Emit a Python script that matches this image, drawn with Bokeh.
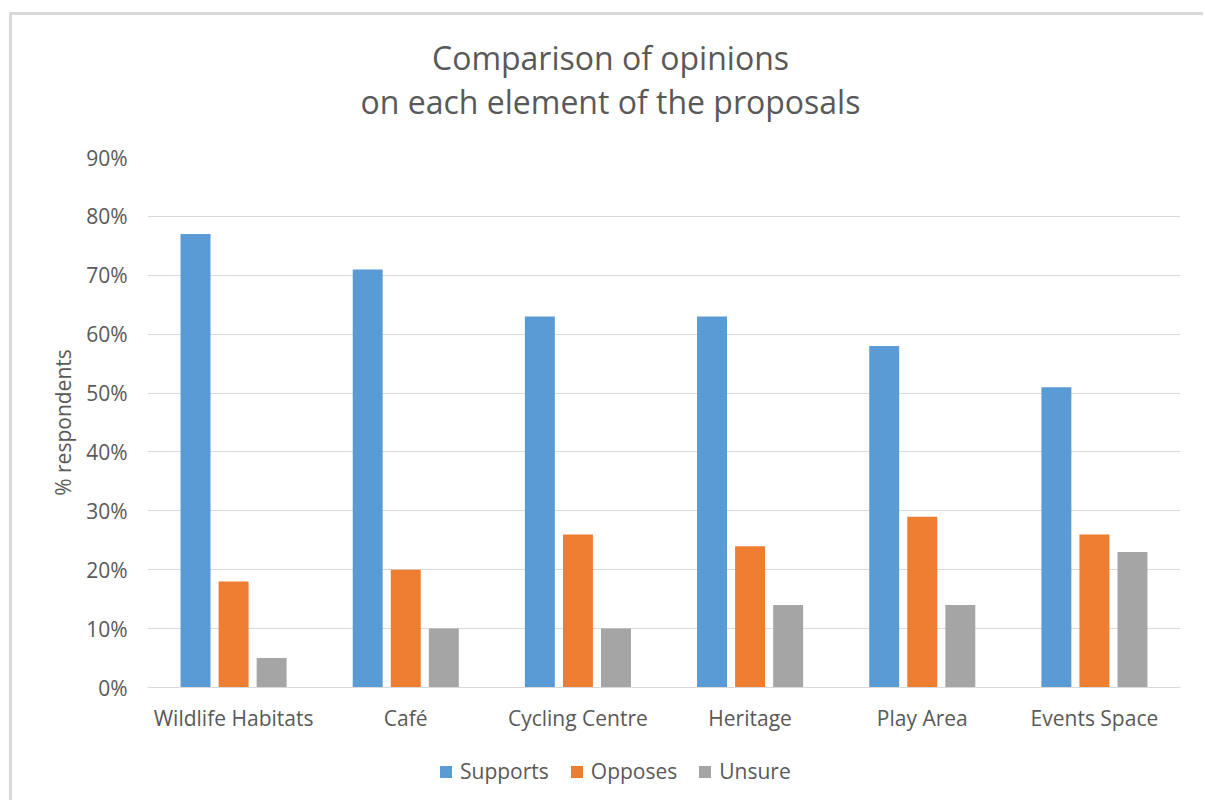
from bokeh.plotting import figure
from bokeh.layouts import column
from bokeh.models import (FactorRange, Range1d, FixedTicker, PrintfTickFormatter,
                          Legend, LegendItem, ColumnDataSource)
from bokeh.core.properties import value
from bokeh.transform import dodge
from bokeh.embed import file_html
from bokeh.resources import INLINE

categories = ["Wildlife Habitats", "Café", "Cycling Centre", "Heritage", "Play Area", "Events Space"]
supports = [77, 71, 63, 63, 58, 51]
opposes = [18, 20, 26, 24, 29, 26]
unsure = [5, 10, 10, 14, 14, 23]
series_names = ["Supports", "Opposes", "Unsure"]
y_ticks = [0, 10, 20, 30, 40, 50, 60, 70, 80, 90]
title_lines = ["Comparison of opinions", "on each element of the proposals"]

FONT = "Open Sans"
TXT = "#595959"
GRID = "#D9D9D9"
colors = ["#5B9BD5", "#ED7D31", "#A5A5A5"]
W = 1203
FRAME_L, FRAME_R = 147, 1180  # frames of the stacked figures are aligned by the column


def blank_fig(h):
    f = figure(width=W, height=h, x_range=Range1d(FRAME_L, FRAME_R), y_range=Range1d(h, 0),
               x_axis_type=None, y_axis_type=None, title=None,
               output_backend="svg", toolbar_location=None,
               min_border_left=0, min_border_right=0, min_border_top=0, min_border_bottom=0)
    f.outline_line_color = None
    f.background_fill_color = None
    f.border_fill_color = None
    f.grid.visible = False
    return f


# ---- title strip ----
tf = blank_fig(142)
tsrc = ColumnDataSource(dict(txt=title_lines, x=[610, 610], y=[57, 101]))
tf.text(x="x", y="y", text="txt", source=tsrc, text_align="center", text_baseline="middle",
        text_font=value(FONT), text_font_size="32px", text_color=TXT)

# ---- main chart ----
src = ColumnDataSource(dict(cat=categories, Supports=supports, Opposes=opposes, Unsure=unsure))
p = figure(x_range=FactorRange(factors=categories, range_padding=0),
           y_range=Range1d(0, 90), width=W, height=598, title=None,
           output_backend="svg", toolbar_location=None,
           min_border_left=FRAME_L, min_border_right=W - FRAME_R, min_border_top=15,
           min_border_bottom=53)
p.outline_line_color = None
p.background_fill_color = "white"
p.border_fill_color = None

offsets = [-0.221, 0.0, 0.221]
for name, off, col in zip(series_names, offsets, colors):
    p.vbar(x=dodge("cat", off, range=p.x_range), top=name, width=0.174, bottom=0,
           source=src, fill_color=col, line_color=None)

p.xgrid.visible = False
p.ygrid.grid_line_color = GRID
p.ygrid.grid_line_width = 1
p.yaxis.ticker = FixedTicker(ticks=y_ticks)
p.yaxis.formatter = PrintfTickFormatter(format="%d%%")
p.yaxis.axis_line_color = None
p.yaxis.major_tick_line_color = None
p.yaxis.minor_tick_line_color = None
p.yaxis.major_label_standoff = 14
p.yaxis.axis_label = "% respondents"
p.yaxis.axis_label_standoff = 6
p.yaxis.axis_label_text_font = FONT
p.yaxis.axis_label_text_font_size = "21px"
p.yaxis.axis_label_text_font_style = "normal"
p.yaxis.axis_label_text_color = TXT

p.xaxis.axis_line_color = GRID
p.xaxis.major_tick_line_color = None
p.xaxis.minor_tick_line_color = None
p.xaxis.major_label_standoff = 10
for ax in (p.xaxis, p.yaxis):
    ax.major_label_text_font = FONT
    ax.major_label_text_font_size = "21px"
    ax.major_label_text_color = TXT

# ---- legend strip ----
lf = blank_fig(60)
items = []
for name, col in zip(series_names, colors):
    # zero-height swatch renderer, only used for the legend glyph
    r = lf.vbar(x=[FRAME_L], top=[0], bottom=[0], width=1, fill_color=col, line_color=None)
    items.append(LegendItem(label=name, renderers=[r]))
legend = Legend(items=items, orientation="horizontal", location=(291, 15),
                glyph_width=15, glyph_height=15, label_standoff=7, spacing=20,
                padding=0, margin=0, border_line_color=None, background_fill_alpha=0,
                label_text_font=FONT, label_text_font_size="21px", label_text_color=TXT)
lf.add_layout(legend, "center")

layout = column(tf, p, lf, spacing=0)
layout.styles = {
    "background": ("linear-gradient(#D9D9D9,#D9D9D9) 9px 12px / 3px 100% no-repeat, "
                   "linear-gradient(#D9D9D9,#D9D9D9) 9px 12px / 100% 3px no-repeat, white"),
}

open("out.html", "w").write(file_html(layout, INLINE))
